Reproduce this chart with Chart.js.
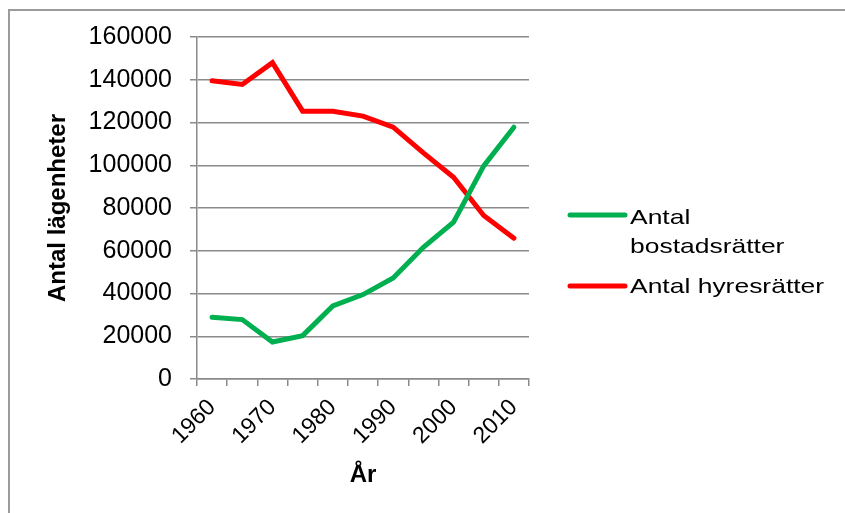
<!DOCTYPE html>
<html><head><meta charset="utf-8">
<script src="https://cdn.jsdelivr.net/npm/chart.js@4.4.1/dist/chart.umd.min.js"></script>
<style>
html,body{margin:0;padding:0;background:#fff;overflow:hidden;}
#wrap{position:relative;width:845px;height:513px;overflow:hidden;}
#frame{position:absolute;left:8px;top:9px;width:1000px;height:1000px;border:2px solid #9b9b9b;}
canvas{position:absolute;left:0;top:0;}
</style></head><body>
<div id="wrap"><div id="frame"></div><canvas id="c" width="845" height="513"></canvas></div>
<script>
// Categories (5-year steps)
const years = ['1960','1965','1970','1975','1980','1985','1990','1995','2000','2005','2010'];
// Tick labels shown on the x axis (every other category)
const xTickLabels = ['1960','','1970','','1980','','1990','','2000','','2010'];
// Series values
const bostadsratter = [28900, 27800, 17300, 20300, 34200, 39500, 47300, 61600, 73400, 99700, 117800];
const hyresratter = [139500, 137800, 148000, 125300, 125300, 123000, 117800, 105800, 94400, 76500, 65900];
const seriesNames = ['Antal bostadsrätter', 'Antal hyresrätter'];
const legendLines = [['Antal', 'bostadsrätter'], ['Antal hyresrätter']];
const yMin = 0, yMax = 160000, yStep = 20000;
const xTitle = 'År';
const yTitle = 'Antal lägenheter';

const FONT = '"Liberation Sans", Arial, sans-serif';
Chart.defaults.font.family = FONT;
Chart.defaults.color = '#000';

const sideLegend = {
  id: 'sideLegend',
  afterDraw(chart) {
    const ctx = chart.ctx;
    const x0 = 570, x1 = 625, tx = 630;
    const lineYs = [215, 286];
    const firstBaselines = [224, 293];
    const lh = 28.5;
    ctx.save();
    chart.data.datasets.forEach((ds, i) => {
      ctx.strokeStyle = ds.borderColor;
      ctx.lineWidth = 5;
      ctx.lineCap = 'round';
      ctx.beginPath();
      ctx.moveTo(x0, lineYs[i]);
      ctx.lineTo(x1, lineYs[i]);
      ctx.stroke();
      ctx.fillStyle = '#000';
      ctx.font = '21px ' + FONT;
      ctx.textAlign = 'left';
      ctx.textBaseline = 'alphabetic';
      legendLines[i].forEach((t, j) => {
        ctx.save();
        ctx.translate(tx, firstBaselines[i] + j * lh);
        ctx.scale(1.26, 1);
        ctx.fillText(t, 0, 0);
        ctx.restore();
      });
    });
    ctx.restore();
  }
};

new Chart(document.getElementById('c'), {
  type: 'line',
  data: {
    labels: years,
    datasets: [
      {label: seriesNames[0], data: bostadsratter, borderColor: '#00B050', backgroundColor: '#00B050',
       borderWidth: 5, pointRadius: 0, tension: 0, borderCapStyle: 'round', borderJoinStyle: 'miter', fill: false},
      {label: seriesNames[1], data: hyresratter, borderColor: '#FF0000', backgroundColor: '#FF0000',
       borderWidth: 5, pointRadius: 0, tension: 0, borderCapStyle: 'round', borderJoinStyle: 'miter', fill: false}
    ]
  },
  options: {
    responsive: false,
    animation: false,
    devicePixelRatio: 1,
    layout: {padding: {left: 0, right: 316, top: 37, bottom: 0}},
    plugins: {legend: {display: false}, tooltip: {enabled: false}},
    scales: {
      x: {
        type: 'category',
        offset: true,
        grid: {offset: true, drawOnChartArea: false, drawTicks: true, tickLength: 7, color: '#8a8a8a', lineWidth: 1.5},
        border: {display: true, color: '#8a8a8a', width: 1.5},
        ticks: {autoSkip: false, maxRotation: 45, minRotation: 45, font: {size: 23}, color: '#000', padding: 8,
                callback: (v, i) => xTickLabels[i]},
        title: {display: true, text: xTitle, font: {size: 24, weight: 'bold'}, color: '#000', padding: {top: 0, bottom: 23}},
        afterFit: s => { s.height = 134; }
      },
      y: {
        min: yMin, max: yMax,
        ticks: {stepSize: yStep, font: {size: 25}, color: '#000', padding: 18, callback: v => String(v)},
        grid: {color: '#8a8a8a', lineWidth: 1.5, tickLength: 7},
        border: {display: true, color: '#8a8a8a', width: 1.5},
        title: {display: true, text: yTitle, font: {size: 24, weight: 'bold'}, color: '#000', padding: {top: 44, bottom: 0}},
        afterFit: s => { s.width = 197; }
      }
    }
  },
  plugins: [sideLegend]
});
</script>
</body></html>
